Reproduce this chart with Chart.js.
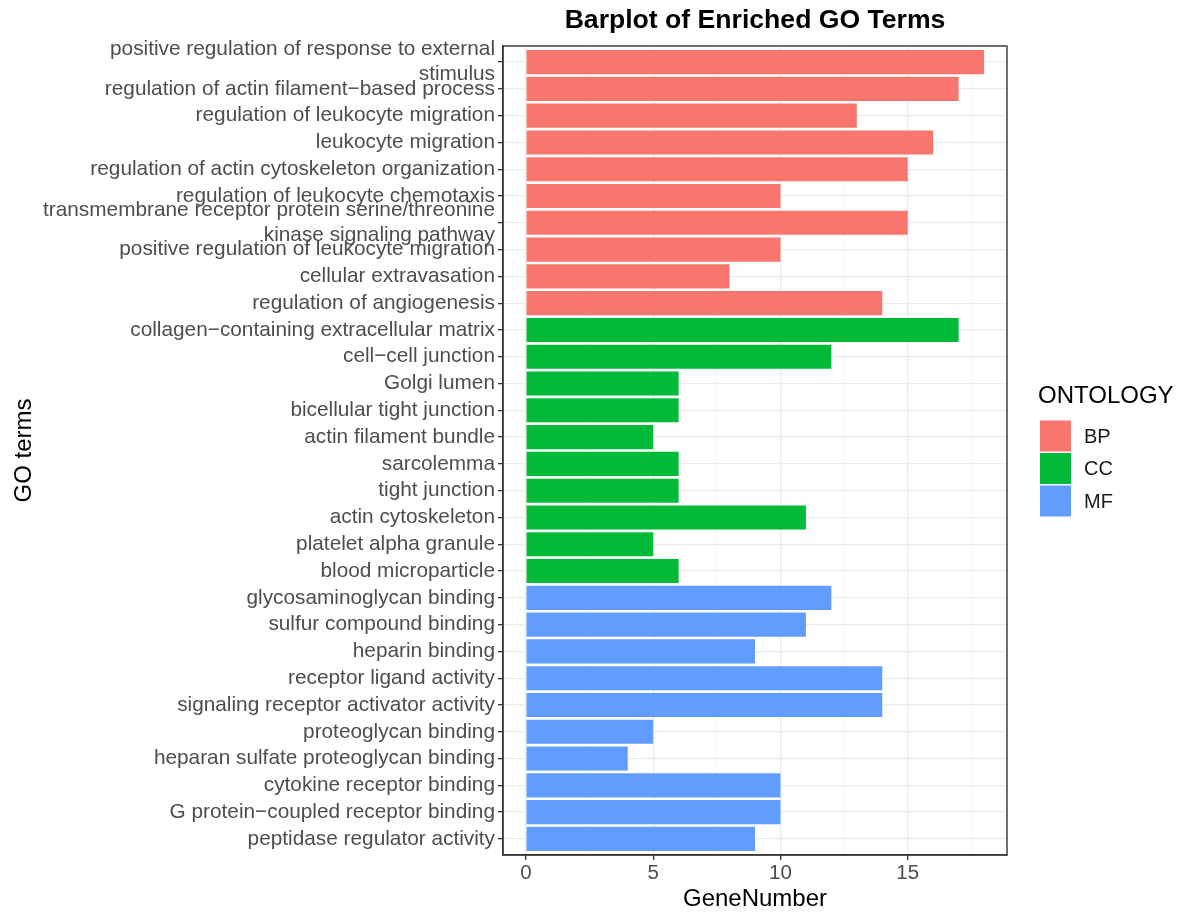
<!DOCTYPE html>
<html>
<head>
<meta charset="utf-8">
<script src="https://cdn.jsdelivr.net/npm/chart.js@4.4.0/dist/chart.umd.min.js"></script>
<style>
  body { margin: 0; background: #fff; }
  canvas { display: block; }
</style>
</head>
<body>
<canvas id="myChart" width="1181" height="914"></canvas>
<script>
// GO-Terme je Ontologie (von oben nach unten)
const bpTerms = [
    'positive regulation of response to external\nstimulus',
    'regulation of actin filament\u2212based process',
    'regulation of leukocyte migration',
    'leukocyte migration',
    'regulation of actin cytoskeleton organization',
    'regulation of leukocyte chemotaxis',
    'transmembrane receptor protein serine/threonine\nkinase signaling pathway',
    'positive regulation of leukocyte migration',
    'cellular extravasation',
    'regulation of angiogenesis'
];
const bpCounts = [18, 17, 13, 16, 15, 10, 15, 10, 8, 14];

const ccTerms = [
    'collagen\u2212containing extracellular matrix',
    'cell\u2212cell junction',
    'Golgi lumen',
    'bicellular tight junction',
    'actin filament bundle',
    'sarcolemma',
    'tight junction',
    'actin cytoskeleton',
    'platelet alpha granule',
    'blood microparticle'
];
const ccCounts = [17, 12, 6, 6, 5, 6, 6, 11, 5, 6];

const mfTerms = [
    'glycosaminoglycan binding',
    'sulfur compound binding',
    'heparin binding',
    'receptor ligand activity',
    'signaling receptor activator activity',
    'proteoglycan binding',
    'heparan sulfate proteoglycan binding',
    'cytokine receptor binding',
    'G protein\u2212coupled receptor binding',
    'peptidase regulator activity'
];
const mfCounts = [12, 11, 9, 14, 14, 5, 4, 10, 10, 9];

const xTicks = [0, 5, 10, 15];
const xMinor = [2.5, 7.5, 12.5, 17.5];

const allTerms = bpTerms.concat(ccTerms, mfTerms);

// Punkte {x: Anzahl, y: Position} bauen
function toPoints(counts, offset) {
    return counts.map((c, i) => ({ x: c, y: offset + i }));
}

const FONT = '"Liberation Sans", Arial, sans-serif';

// Rahmen um das Panel, Titel und Legende (wie ggplot)
const panelPlugin = {
    id: 'panel',
    afterDraw(chart) {
        const { ctx, chartArea } = chart;
        ctx.save();
        ctx.strokeStyle = '#333333';
        ctx.lineWidth = 1.4;
        ctx.strokeRect(chartArea.left, chartArea.top, chartArea.right - chartArea.left, chartArea.bottom - chartArea.top);

        // Titel ueber dem Panel
        ctx.fillStyle = '#000';
        ctx.font = 'bold 26.6px ' + FONT;
        ctx.textAlign = 'center';
        ctx.textBaseline = 'middle';
        ctx.fillText('Barplot of Enriched GO Terms', (chartArea.left + chartArea.right) / 2, 21);

        // Legende rechts
        const lx = chartArea.right + 33;
        const midY = (chartArea.top + chartArea.bottom) / 2;
        const key = 31, step = 32.5;
        const keysTop = midY - 30;
        ctx.textAlign = 'left';
        ctx.font = '24px ' + FONT;
        ctx.fillStyle = '#000';
        ctx.fillText('ONTOLOGY', lx - 2, keysTop - 24);
        ctx.font = '20px ' + FONT;
        chart.data.datasets.forEach((ds, i) => {
            const y = keysTop + i * step;
            ctx.fillStyle = ds.backgroundColor;
            ctx.fillRect(lx, y, key, key);
            ctx.fillStyle = '#1a1a1a';
            ctx.fillText(ds.label, lx + 44, y + key / 2 + 1);
        });
        ctx.restore();
    }
};

const ctx = document.getElementById('myChart').getContext('2d');
const myChart = new Chart(ctx, {
    type: 'bar',
    data: {
        datasets: [
            {
                label: 'BP',
                data: toPoints(bpCounts, 0),
                backgroundColor: '#F8766D',
            },
            {
                label: 'CC',
                data: toPoints(ccCounts, bpTerms.length),
                backgroundColor: '#00BA38',
            },
            {
                label: 'MF',
                data: toPoints(mfCounts, bpTerms.length + ccTerms.length),
                backgroundColor: '#619CFF',
            }
        ]
    },
    options: {
        responsive: false,
        animation: false,
        indexAxis: 'y',
        layout: { padding: { top: 46, right: 174, left: 0, bottom: 0 } },
        datasets: {
            bar: { grouped: false, barPercentage: 0.9, categoryPercentage: 1.0 }
        },
        scales: {
            x: {
                type: 'linear',
                min: -0.9,
                max: 18.9,
                afterBuildTicks: axis => {
                    axis.ticks = xTicks.concat(xMinor).sort((a, b) => a - b).map(v => ({ value: v }));
                },
                afterFit: axis => { axis.height = 59; },
                ticks: {
                    callback: v => (xTicks.includes(v) ? String(v) : ''),
                    font: { family: FONT, size: 20.5 },
                    color: '#4d4d4d',
                    padding: 1,
                    maxRotation: 0,
                    autoSkip: false,
                },
                grid: {
                    color: c => (xTicks.includes(c.tick.value) ? '#ebebeb' : '#f3f3f3'),
                    lineWidth: c => (xTicks.includes(c.tick.value) ? 1.3 : 0.8),
                    tickColor: c => (xTicks.includes(c.tick.value) ? '#333333' : 'rgba(0,0,0,0)'),
                    tickLength: 5,
                    tickWidth: 1.3,
                },
                border: { color: '#333333', width: 1.4 },
                title: {
                    display: true,
                    text: 'GeneNumber',
                    font: { family: FONT, size: 24 },
                    color: '#000',
                    padding: { top: 0, bottom: 0 },
                }
            },
            y: {
                type: 'linear',
                reverse: true,
                offset: false,
                min: -0.6,
                max: allTerms.length - 0.4,
                afterBuildTicks: axis => {
                    axis.ticks = allTerms.map((_, i) => ({ value: i }));
                },
                afterFit: axis => { axis.width = 503; },
                ticks: {
                    autoSkip: false,
                    callback: v => allTerms[v].split('\n'),
                    font: { family: FONT, size: 20.8, lineHeight: 1.2 },
                    color: '#4d4d4d',
                    padding: 3,
                },
                grid: {
                    offset: false,
                    color: '#ebebeb',
                    lineWidth: 1.3,
                    tickColor: '#333333',
                    tickLength: 5,
                    tickWidth: 1.3,
                },
                border: { color: '#333333', width: 1.4 },
                title: {
                    display: true,
                    text: 'GO terms',
                    font: { family: FONT, size: 24 },
                    color: '#000',
                    padding: { top: 10, bottom: 0 },
                }
            }
        },
        plugins: {
            legend: { display: false },
            tooltip: { enabled: false }
        }
    },
    plugins: [panelPlugin]
});
</script>
</body>
</html>
